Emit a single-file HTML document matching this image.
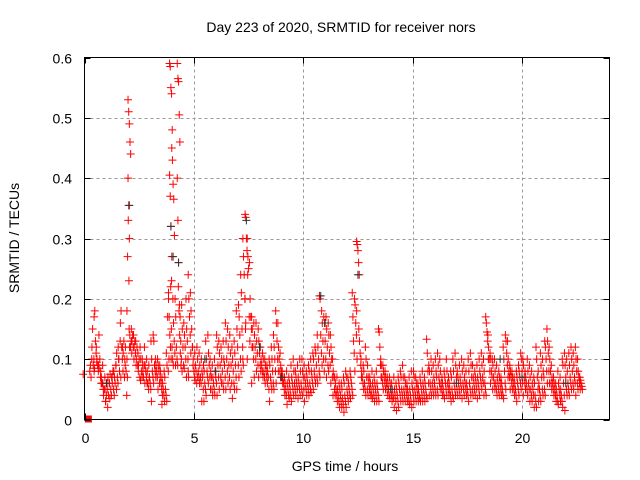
<!DOCTYPE html>
<html><head><meta charset="utf-8">
<style>
body{margin:0;background:#fff;}
svg{display:block;font-family:"Liberation Sans",sans-serif;}
</style></head>
<body>
<svg id="chart" width="640" height="480" viewBox="0 0 640 480" xmlns="http://www.w3.org/2000/svg">
<rect x="0" y="0" width="640" height="480" fill="#fff"/>
<g id="grid"></g>
<g id="marks"></g>
<rect x="84.5" y="57.5" width="525" height="362" fill="none" stroke="#000" stroke-width="1"/>
<g id="ticks"></g>
<text x="341" y="32" font-size="14" text-anchor="middle">Day 223 of 2020, SRMTID for receiver nors</text>
<text x="345" y="471" font-size="14" text-anchor="middle">GPS time / hours</text>
<text x="19" y="238" font-size="14" text-anchor="middle" transform="rotate(-90 19 238)">SRMTID / TECUs</text>
</svg>
<script>
const xTicks=[0,5,10,15,20];
const yTicks=[0,0.1,0.2,0.3,0.4,0.5,0.6];
const yTickLabels=["0","0.1","0.2","0.3","0.4","0.5","0.6"];
const binTimes=[0,0.3,0.4,0.5,0.6,0.7,0.8,0.9,1.0,1.1,1.2,1.3,1.4,1.5,1.6,1.7,1.8,1.9,2.0,2.05,2.1,2.2,2.3,2.4,2.5,2.6,2.7,2.8,2.9,3.0,3.1,3.2,3.3,3.4,3.5,3.6,3.7,3.8,3.9,3.95,4.0,4.05,4.1,4.2,4.3,4.35,4.4,4.5,4.6,4.7,4.8,4.9,5.0,5.1,5.2,5.3,5.4,5.5,5.6,5.7,5.8,5.9,6.0,6.1,6.2,6.3,6.4,6.5,6.6,6.7,6.8,6.9,7.0,7.1,7.2,7.3,7.4,7.5,7.6,7.7,7.8,7.9,8.0,8.1,8.2,8.3,8.4,8.5,8.6,8.7,8.8,8.9,9.0,9.1,9.2,9.3,9.4,9.5,9.6,9.7,9.8,9.9,10.0,10.1,10.2,10.3,10.4,10.5,10.6,10.7,10.8,10.9,11.0,11.1,11.2,11.3,11.4,11.5,11.6,11.7,11.8,11.9,12.0,12.1,12.2,12.3,12.4,12.5,12.6,12.7,12.8,12.9,13.0,13.1,13.2,13.3,13.4,13.5,13.6,13.7,13.8,13.9,14.0,14.1,14.2,14.3,14.4,14.5,14.6,14.7,14.8,14.9,15.0,15.1,15.2,15.3,15.4,15.5,15.6,15.7,15.8,15.9,16.0,16.1,16.2,16.3,16.4,16.5,16.6,16.7,16.8,16.9,17.0,17.1,17.2,17.3,17.4,17.5,17.6,17.7,17.8,17.9,18.0,18.1,18.2,18.3,18.4,18.5,18.6,18.7,18.8,18.9,19.0,19.1,19.2,19.3,19.4,19.5,19.6,19.7,19.8,19.9,20.0,20.1,20.2,20.3,20.4,20.5,20.6,20.7,20.8,20.9,21.0,21.1,21.2,21.3,21.4,21.5,21.6,21.7,21.8,21.9,22.0,22.1,22.2,22.3,22.4,22.5,22.6,22.7];
const binValues=[
[0.075],[0.08,0.09,0.07,0.1],[0.12,0.15,0.09,0.1,0.085],[0.17,0.18,0.13,0.11,0.095,0.08],[0.12,0.1,0.09,0.08,0.14],[0.09,0.085,0.1,0.07,0.06],[0.08,0.07,0.06,0.09,0.05],[0.06,0.04,0.05,0.07,0.03],[0.05,0.03,0.04,0.06,0.02],[0.05,0.07,0.04,0.06,0.035],[0.06,0.075,0.05,0.04,0.07],[0.07,0.06,0.08,0.05,0.04],[0.08,0.07,0.06,0.09,0.05],[0.09,0.11,0.07,0.06,0.1],[0.12,0.1,0.08,0.13,0.07],[0.16,0.18,0.12,0.1,0.08],[0.12,0.11,0.13,0.07,0.09],[0.1,0.12,0.08,0.04,0.07],[0.18,0.27,0.33,0.23,0.12,0.1],[0.53,0.51,0.49,0.46,0.44,0.40,0.355,0.3],
[0.15,0.14,0.12,0.13,0.11],[0.15,0.13,0.14,0.12,0.1],[0.14,0.12,0.13,0.11,0.09],[0.13,0.1,0.12,0.09,0.08],[0.11,0.09,0.1,0.07,0.065],[0.12,0.1,0.08,0.07,0.09],[0.1,0.08,0.07,0.09,0.06],[0.12,0.09,0.08,0.07,0.06],[0.1,0.08,0.06,0.05,0.07],[0.09,0.07,0.06,0.05,0.03],[0.13,0.1,0.08,0.07,0.06],[0.14,0.13,0.09,0.08,0.07],[0.1,0.09,0.08,0.07,0.05],[0.1,0.09,0.08,0.06,0.07],[0.09,0.08,0.06,0.05,0.04],[0.07,0.06,0.05,0.04,0.03,0.025],[0.08,0.07,0.05,0.04,0.03],[0.11,0.09,0.17,0.08,0.1],[0.2,0.17,0.14,0.12,0.1,0.21],[0.59,0.585,0.55,0.54,0.48,0.405,0.37,0.32,0.23],
[0.22,0.15,0.12,0.1,0.09],[0.45,0.43,0.39,0.365,0.305,0.27],[0.2,0.16,0.13,0.11,0.09],[0.2,0.17,0.12,0.1,0.09],[0.59,0.565,0.56,0.505,0.46,0.40,0.33,0.26],[0.22,0.18,0.14,0.11,0.09],[0.19,0.17,0.13,0.1,0.08],[0.19,0.15,0.12,0.09,0.085],[0.16,0.14,0.12,0.1,0.07],[0.2,0.15,0.13,0.1,0.07],[0.24,0.2,0.17,0.14,0.11,0.08],[0.21,0.18,0.15,0.12,0.09],[0.12,0.1,0.08,0.07,0.065],[0.11,0.09,0.08,0.06,0.07],[0.12,0.1,0.08,0.07,0.06],[0.11,0.09,0.07,0.06,0.03],[0.1,0.08,0.07,0.05,0.03],[0.09,0.08,0.06,0.05,0.04],[0.13,0.1,0.08,0.07,0.06],[0.14,0.11,0.09,0.07,0.05],
[0.1,0.08,0.07,0.05,0.04],[0.09,0.07,0.06,0.05,0.04],[0.1,0.08,0.07,0.06,0.04],[0.14,0.12,0.09,0.07,0.05],[0.13,0.11,0.09,0.07,0.06],[0.12,0.1,0.08,0.06,0.05],[0.13,0.1,0.09,0.07,0.05],[0.16,0.13,0.1,0.08,0.06],[0.15,0.12,0.09,0.07,0.05],[0.14,0.11,0.09,0.06,0.035],[0.12,0.1,0.08,0.06,0.05],[0.13,0.11,0.09,0.07,0.05],[0.18,0.15,0.12,0.09,0.07],[0.19,0.17,0.14,0.1,0.08],[0.24,0.21,0.15,0.12,0.09],[0.3,0.27,0.24,0.2,0.15,0.1],[0.34,0.335,0.3,0.28,0.24,0.2,0.16],[0.3,0.27,0.25,0.17,0.13,0.1],[0.26,0.2,0.17,0.15,0.12],[0.17,0.15,0.12,0.1,0.07,0.06],
[0.16,0.14,0.12,0.1,0.08],[0.16,0.13,0.11,0.09,0.07],[0.15,0.13,0.11,0.09,0.08],[0.12,0.1,0.09,0.08,0.07],[0.11,0.1,0.08,0.07,0.06],[0.1,0.09,0.08,0.07,0.06],[0.09,0.08,0.07,0.05,0.03],[0.1,0.09,0.07,0.06,0.05],[0.12,0.1,0.08,0.06,0.05],[0.14,0.12,0.1,0.08,0.06],[0.18,0.16,0.13,0.1,0.08],[0.16,0.12,0.1,0.08,0.07],[0.11,0.09,0.08,0.07,0.06],[0.08,0.07,0.06,0.05,0.04],[0.07,0.06,0.05,0.04,0.025],[0.08,0.06,0.05,0.04,0.035],[0.07,0.06,0.05,0.04,0.03],[0.09,0.07,0.06,0.05,0.04],[0.1,0.08,0.06,0.05,0.04],[0.08,0.07,0.06,0.05,0.035],
[0.09,0.07,0.06,0.05,0.04],[0.1,0.08,0.06,0.05,0.04],[0.1,0.08,0.07,0.05,0.03],[0.09,0.07,0.06,0.05,0.04],[0.08,0.07,0.06,0.05,0.04],[0.09,0.08,0.06,0.05,0.045],[0.1,0.08,0.07,0.06,0.05],[0.11,0.1,0.08,0.07,0.06],[0.12,0.11,0.09,0.07,0.06],[0.14,0.12,0.1,0.08,0.07],[0.205,0.2,0.14,0.11,0.09],[0.18,0.16,0.13,0.1,0.08],[0.17,0.16,0.13,0.1,0.07],[0.17,0.15,0.12,0.09,0.08],[0.16,0.14,0.11,0.09,0.06],[0.14,0.12,0.1,0.07,0.04],[0.1,0.08,0.07,0.05,0.04],[0.07,0.06,0.05,0.04,0.03],[0.07,0.05,0.04,0.03,0.02],[0.06,0.05,0.04,0.03,0.02],
[0.06,0.05,0.035,0.025,0.012],[0.07,0.06,0.04,0.03,0.02],[0.08,0.07,0.05,0.04,0.03],[0.07,0.06,0.05,0.04,0.035],[0.08,0.07,0.06,0.05,0.04],[0.21,0.17,0.13,0.11,0.08],[0.2,0.19,0.16,0.14,0.1],[0.295,0.29,0.28,0.26,0.24,0.18],[0.15,0.13,0.11,0.09,0.07],[0.1,0.08,0.07,0.06,0.05],[0.09,0.08,0.06,0.05,0.04],[0.12,0.1,0.07,0.05,0.04],[0.09,0.07,0.06,0.05,0.04],[0.07,0.06,0.05,0.04,0.035],[0.08,0.06,0.05,0.04,0.03],[0.07,0.06,0.05,0.04,0.03],[0.08,0.06,0.05,0.04,0.03],[0.15,0.145,0.12,0.09,0.07],[0.1,0.09,0.07,0.06,0.05],[0.09,0.08,0.07,0.06,0.05],
[0.08,0.07,0.06,0.05,0.04],[0.07,0.06,0.05,0.04,0.035],[0.07,0.06,0.05,0.04,0.03],[0.06,0.05,0.04,0.035,0.02],[0.07,0.05,0.04,0.03,0.015],[0.06,0.05,0.04,0.03,0.02],[0.07,0.06,0.05,0.04,0.03],[0.08,0.07,0.05,0.04,0.03],[0.09,0.07,0.05,0.04,0.03],[0.07,0.06,0.05,0.04,0.03],[0.06,0.05,0.04,0.03,0.025],[0.07,0.05,0.04,0.03,0.02],[0.08,0.06,0.05,0.04,0.03],[0.08,0.07,0.05,0.04,0.03],[0.07,0.06,0.05,0.04,0.03],[0.06,0.05,0.04,0.035,0.03],[0.07,0.06,0.05,0.04,0.03],[0.08,0.06,0.05,0.04,0.03],[0.07,0.06,0.05,0.04,0.035],[0.133,0.11,0.08,0.06,0.04],
[0.09,0.08,0.06,0.05,0.04],[0.1,0.08,0.06,0.05,0.04],[0.09,0.07,0.06,0.05,0.04],[0.1,0.08,0.07,0.05,0.04],[0.11,0.09,0.07,0.06,0.05],[0.1,0.08,0.06,0.05,0.04],[0.07,0.06,0.05,0.04,0.035],[0.08,0.07,0.06,0.05,0.04],[0.1,0.08,0.06,0.05,0.04],[0.07,0.06,0.05,0.04,0.03],[0.08,0.07,0.05,0.04,0.035],[0.1,0.08,0.06,0.05,0.04],[0.11,0.09,0.07,0.05,0.04],[0.08,0.07,0.06,0.05,0.04],[0.09,0.07,0.06,0.05,0.035],[0.1,0.08,0.06,0.05,0.04],[0.09,0.07,0.06,0.05,0.04],[0.08,0.06,0.05,0.04,0.03],[0.1,0.08,0.06,0.05,0.04],[0.11,0.09,0.07,0.05,0.04],
[0.09,0.07,0.06,0.05,0.04],[0.08,0.07,0.06,0.05,0.035],[0.09,0.07,0.06,0.05,0.04],[0.1,0.08,0.07,0.06,0.05],[0.11,0.09,0.07,0.06,0.04],[0.1,0.08,0.06,0.05,0.04],[0.17,0.16,0.145,0.13,0.1],[0.14,0.12,0.1,0.08,0.06],[0.11,0.1,0.08,0.07,0.05],[0.1,0.09,0.07,0.06,0.05],[0.1,0.08,0.06,0.05,0.04],[0.09,0.07,0.06,0.05,0.04],[0.08,0.07,0.06,0.05,0.04],[0.07,0.06,0.05,0.04,0.035],[0.12,0.1,0.08,0.06,0.05],[0.14,0.13,0.11,0.09,0.07],[0.13,0.1,0.08,0.07,0.05],[0.09,0.08,0.07,0.06,0.05],[0.08,0.07,0.06,0.05,0.04],[0.07,0.06,0.05,0.04,0.03],
[0.08,0.07,0.06,0.05,0.04],[0.09,0.08,0.07,0.06,0.05],[0.11,0.1,0.08,0.06,0.04],[0.1,0.09,0.07,0.06,0.05],[0.08,0.07,0.06,0.05,0.04],[0.1,0.08,0.06,0.05,0.03],[0.09,0.07,0.05,0.04,0.03],[0.08,0.06,0.05,0.04,0.02],[0.07,0.06,0.04,0.03,0.02],[0.12,0.1,0.07,0.05,0.03],[0.08,0.06,0.05,0.04,0.03],[0.11,0.09,0.07,0.05,0.04],[0.1,0.08,0.07,0.05,0.04],[0.13,0.12,0.1,0.08,0.06],[0.15,0.13,0.11,0.08,0.06],[0.12,0.1,0.08,0.06,0.05],[0.09,0.07,0.06,0.05,0.04],[0.07,0.06,0.05,0.04,0.03],[0.06,0.05,0.04,0.03,0.025],[0.08,0.06,0.05,0.04,0.03],
[0.07,0.05,0.04,0.03,0.02],[0.1,0.09,0.06,0.04,0.015],[0.11,0.09,0.07,0.05,0.04],[0.1,0.08,0.06,0.05,0.04],[0.11,0.09,0.07,0.06,0.05],[0.12,0.1,0.08,0.06,0.05],[0.11,0.09,0.07,0.06,0.04],[0.12,0.1,0.08,0.06,0.05],[0.1,0.08,0.07,0.06,0.05],[0.07,0.065,0.06,0.055,0.05]
];
const darkTimes=[2.05,3.95,4.05,4.3,7.4,10.8,12.5,1.0,6.0,9.0,14.0,17.0,20.0,22.0,5.5,8.0,19.0,11.0];
const darkValues=[0.355,0.32,0.27,0.26,0.33,0.205,0.24,0.06,0.08,0.07,0.05,0.06,0.07,0.06,0.1,0.12,0.1,0.16];
const zeroMarkerTime=[0.2];
const zeroMarkerValue=[0];

const X0=84.5,X1=609.5,Y0=419.5,Y1=57.5,XMAX=24,YMAX=0.6;
function xs(t){return X0+(X1-X0)*t/XMAX;}
function ys(v){return Y0-(Y0-Y1)*v/YMAX;}
const NS="http://www.w3.org/2000/svg";
function mk(tag,attrs,parent){const e=document.createElementNS(NS,tag);for(const k in attrs)e.setAttribute(k,attrs[k]);parent.appendChild(e);return e;}
const grid=document.getElementById('grid'),ticks=document.getElementById('ticks'),marks=document.getElementById('marks');
xTicks.forEach(t=>{
  const x=Math.round(xs(t))+0.5;
  if(t>0){const g=mk('line',{x1:x,x2:x,y1:Y1,y2:Y0,stroke:'#999','stroke-dasharray':'3,3'},grid);
  
  }
  const tk=mk('line',{x1:x,x2:x,y1:Y0,y2:Y0-6,stroke:'#000'},ticks);
  
  
  const tk2=mk('line',{x1:x,x2:x,y1:Y1,y2:Y1+6,stroke:'#000'},ticks);
  
  
  const lb=mk('text',{x:x,y:443,'font-size':14,'text-anchor':'middle'},ticks);lb.textContent=String(t);
  
  
});
yTicks.forEach((v,i)=>{
  const y=Math.round(ys(v))+0.5;
  if(v>0&&v<YMAX){const g=mk('line',{x1:X0,x2:X1,y1:y,y2:y,stroke:'#999','stroke-dasharray':'3,3'},grid);
  
  }
  const tk=mk('line',{x1:X0,x2:X0+6,y1:y,y2:y,stroke:'#000'},ticks);
  
  
  const tk2=mk('line',{x1:X1,x2:X1-6,y1:y,y2:y,stroke:'#000'},ticks);
  
  
  const lb=mk('text',{x:72,y:y+5,'font-size':14,'text-anchor':'end'},ticks);lb.textContent=yTickLabels[i];
  
  
});
function plus(t,v,color){
  const x=xs(t),y=ys(v);
  const p=mk('path',{d:`M${x-4},${y}H${x+4}M${x},${y-4}V${y+4}`,stroke:color,'stroke-width':1,fill:'none'},marks);
  return p;
}
binTimes.forEach((t,i)=>{
  binValues[i].forEach((v,j)=>{
    const p=plus(t+((j%5)-2)*0.03,v,'#ff0000');
    
    
  });
});
darkTimes.forEach((t,i)=>{
  const p=plus(t,darkValues[i],'#333');
  
  
});
zeroMarkerTime.forEach((t,i)=>{
  const r=mk('rect',{x:xs(t)-4,y:ys(zeroMarkerValue[i])-4,width:7,height:7,fill:'#ff0000'},marks);
  
  
});
</script>
</body></html>
